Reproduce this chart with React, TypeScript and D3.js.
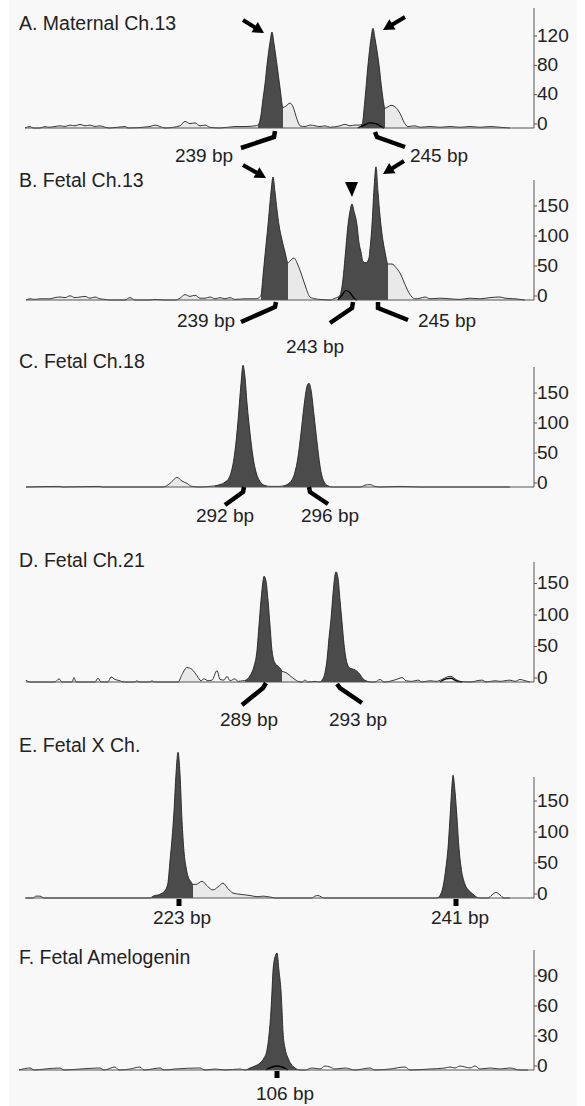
import React from 'react';
import * as d3 from 'd3';

type Pt = [number, number];

// ---------- DATA (scan position, signal) ----------
const traceA: Pt[] = [[0,0],[5,2],[8,0],[15,0],[20,2],[23,1],[30,2],[35,3],[40,2],[45,4],[50,3],[55,5],[60,3],[65,4],[70,2],[75,3],[80,1],[85,0],[100,2],[103,0],[125,2],[130,4],[135,2],[140,0],[155,3],[160,9],[165,6],[170,7],[175,3],[180,4],[185,1],[195,0],[210,2],[220,2],[230,3],[233,4],[236,18],[238,40],[240,60],[242,86],[245,117],[247,131],[249,115],[252,86],[255,55],[258,28],[261,30],[265,34],[268,29],[272,12],[275,3],[280,2],[285,4],[290,3],[295,2],[300,3],[305,1],[315,3],[320,5],[325,3],[330,4],[334,4],[337,5],[340,40],[343,86],[346,122],[348,136],[350,122],[354,86],[357,50],[360,27],[363,29],[366,31],[370,29],[375,20],[379,8],[383,2],[390,3],[395,1],[405,2],[415,1],[425,2],[435,1],[445,2],[455,1],[465,2],[475,1],[485,0]];
const secondA: Pt[] = [[333,0],[339,4],[345,7],[351,6],[356,2],[359,0]];
const darkA: Pt[] = [[233,258],[336,360]];
const lightA: Pt[] = [[0,485]];
const ticksA = [0, 40, 80, 120];

const traceB: Pt[] = [[1,0],[5,2],[10,1],[15,2],[25,2],[30,4],[35,5],[40,4],[45,7],[50,4],[55,5],[60,6],[65,3],[70,5],[75,2],[80,1],[85,0],[100,0],[105,4],[110,0],[125,0],[130,1],[140,0],[150,0],[155,3],[160,9],[165,6],[170,8],[175,3],[180,3],[185,5],[190,2],[195,4],[200,2],[205,4],[210,1],[220,2],[230,2],[233,3],[236,8],[238,40],[240,75],[243,125],[246,180],[248,205],[250,180],[252,150],[254,125],[257,100],[260,80],[263,62],[265,65],[269,70],[273,58],[277,40],[281,20],[285,5],[290,2],[295,1],[305,0],[310,3],[313,5],[315,8],[318,35],[320,70],[323,125],[325,148],[327,160],[329,148],[332,125],[334,95],[336,80],[338,64],[341,62],[344,70],[345,85],[347,125],[349,185],[351,222],[353,180],[355,140],[357,110],[360,80],[363,60],[367,60],[371,54],[375,45],[379,30],[383,15],[387,5],[390,2],[395,3],[400,5],[405,2],[415,3],[425,2],[435,1],[445,3],[455,2],[465,4],[475,5],[480,3],[490,2],[500,0]];
const secondB: Pt[] = [[313,0],[317,8],[321,16],[325,12],[329,3],[332,0]];
const darkB: Pt[] = [[236,263],[313,363]];
const lightB: Pt[] = [[0,500]];
const ticksB = [0, 50, 100, 150];

const traceC: Pt[] = [[1,0],[35,1],[37,0],[75,1],[77,0],[138,0],[145,6],[152,16],[157,10],[162,6],[167,1],[175,0],[185,1],[190,2],[195,4],[200,8],[204,15],[207,30],[210,60],[213,110],[216,172],[218,203],[220,183],[222,140],[225,90],[228,50],[231,25],[234,12],[237,5],[241,2],[245,1],[253,1],[259,2],[263,5],[267,12],[270,25],[273,50],[276,90],[279,135],[282,168],[284,173],[286,162],[289,120],[292,75],[295,35],[297,18],[300,6],[303,2],[307,0],[335,0],[340,3],[345,4],[350,1],[355,0],[375,1],[395,0],[485,0]];
const secondC: Pt[] = [];
const darkC: Pt[] = [[190,242],[258,307]];
const lightC: Pt[] = [[138,170]];
const ticksC = [0, 50, 100, 150];

const traceD: Pt[] = [[1,3],[5,0],[30,0],[34,5],[37,0],[47,0],[49,7],[51,0],[70,0],[73,6],[76,0],[83,0],[86,8],[90,4],[95,2],[98,0],[110,0],[112,2],[114,0],[125,0],[127,2],[129,0],[153,0],[157,12],[162,23],[167,20],[172,10],[176,2],[179,5],[183,2],[187,3],[192,18],[195,4],[199,3],[202,9],[205,2],[210,5],[213,1],[218,2],[221,3],[225,10],[229,25],[232,50],[234,90],[236,130],[238,160],[239,168],[241,160],[243,130],[245,90],[247,50],[250,30],[253,25],[256,20],[257,17],[261,15],[265,10],[270,4],[273,1],[277,0],[280,3],[283,0],[290,1],[295,0],[297,3],[300,15],[302,35],[304,70],[306,100],[308,140],[310,170],[311,175],[313,165],[315,130],[317,95],[319,60],[322,30],[325,22],[329,20],[332,17],[335,12],[338,5],[341,2],[345,0],[350,0],[355,4],[359,0],[367,2],[373,5],[377,7],[381,2],[387,1],[393,3],[397,0],[405,2],[411,1],[417,4],[422,8],[426,9],[430,5],[435,1],[445,0],[457,3],[461,0],[470,2],[475,1],[480,2],[485,3],[490,1],[495,4],[500,2],[505,0]];
const secondD: Pt[] = [[415,0],[421,5],[426,6],[431,2],[437,0]];
const darkD: Pt[] = [[220,257],[296,345]];
const lightD: Pt[] = [[153,177],[257,277]];
const ticksD = [0, 50, 100, 150];

const traceE: Pt[] = [[0,0],[8,0],[11,3],[15,3],[19,0],[125,0],[128,3],[135,6],[140,12],[143,25],[145,60],[147,95],[149,140],[151,200],[153,235],[155,200],[157,125],[159,75],[161,50],[163,35],[166,26],[168,22],[171,22],[177,27],[183,18],[188,13],[193,18],[198,24],[203,15],[208,8],[215,6],[225,4],[233,2],[238,3],[243,2],[247,1],[250,0],[287,0],[290,3],[293,4],[296,2],[299,0],[412,0],[415,4],[418,18],[421,50],[423,80],[425,129],[427,182],[428,198],[430,172],[432,129],[434,80],[436,50],[440,22],[444,12],[448,6],[452,1],[455,0],[463,0],[467,5],[471,9],[475,5],[479,0],[485,0]];
const secondE: Pt[] = [];
const darkE: Pt[] = [[125,168],[412,453]];
const lightE: Pt[] = [[168,250]];
const ticksE = [0, 50, 100, 150];

const traceF: Pt[] = [[-6,0],[5,2],[9,0],[20,1],[35,2],[39,0],[55,1],[75,2],[79,0],[90,3],[94,0],[105,1],[115,3],[119,0],[135,2],[139,0],[150,1],[175,2],[180,0],[190,1],[200,0],[215,1],[220,0],[225,2],[230,4],[235,7],[239,12],[242,20],[244,35],[246,60],[247,79],[248,99],[250,113],[252,117],[254,99],[256,79],[257,60],[258,38],[260,22],[263,12],[266,6],[270,2],[275,0],[280,0],[287,2],[295,1],[300,4],[305,3],[310,1],[320,2],[330,0],[345,2],[350,0],[365,1],[380,3],[385,0],[405,1],[420,2],[425,3],[430,2],[435,4],[440,3],[445,2],[450,4],[455,1],[465,2],[475,1],[485,2],[495,0],[503,0]];
const secondF: Pt[] = [[241,0],[247,3],[252,4],[257,3],[263,0]];
const darkF: Pt[] = [[220,280]];
const lightF: Pt[] = [];
const ticksF = [0, 30, 60, 90];

const titles = ['A. Maternal Ch.13', 'B. Fetal Ch.13', 'C. Fetal Ch.18', 'D. Fetal Ch.21', 'E. Fetal X Ch.', 'F. Fetal Amelogenin'];

// allele labels: panel index, text, scan position of the peak
const alleleLabels = [
  { p: 0, text: '239 bp', pos: 249 },
  { p: 0, text: '245 bp', pos: 349 },
  { p: 1, text: '239 bp', pos: 250 },
  { p: 1, text: '243 bp', pos: 328 },
  { p: 1, text: '245 bp', pos: 353 },
  { p: 2, text: '292 bp', pos: 219 },
  { p: 2, text: '296 bp', pos: 284 },
  { p: 3, text: '289 bp', pos: 241 },
  { p: 3, text: '293 bp', pos: 312 },
  { p: 4, text: '223 bp', pos: 154 },
  { p: 4, text: '241 bp', pos: 431 },
  { p: 5, text: '106 bp', pos: 252 },
];

// ---------- LAYOUT ----------
const W = 585, H = 1106;
const AXIS_X = 534;
const FONT = "'Liberation Sans', Arial, Helvetica, sans-serif";

const layout = [
  { baseline: 128, k: 0.733, axisTop: 8, titleY: 30, start: 0 },
  { baseline: 300, k: 0.6, axisTop: 180, titleY: 187, start: 1 },
  { baseline: 487, k: 0.6, axisTop: 367, titleY: 368, start: 1 },
  { baseline: 682, k: 0.63, axisTop: 562, titleY: 567, start: 1 },
  { baseline: 898, k: 0.62, axisTop: 777, titleY: 752, start: 1 },
  { baseline: 1070, k: 1.0, axisTop: 950, titleY: 964, start: -6 },
];

// label line shapes (relative to peak x, baseline) and text offsets
const labelStyle = [
  { line: [[1, 3], [0, 9], [-33, 20]], tx: -70, ty: 34 },
  { line: [[1, 4], [3, 9], [31, 19]], tx: 65, ty: 34 },
  { line: [[1, 2], [0, 7], [-34, 22]], tx: -69, ty: 27 },
  { line: [[0, 2], [-1, 8], [-23, 23]], tx: -38, ty: 53 },
  { line: [[0, 2], [0, 8], [30, 20]], tx: 69, ty: 27 },
  { line: [[0, 0], [-1, 5], [-19, 18]], tx: -19, ty: 35 },
  { line: [[0, 0], [1, 5], [19, 17]], tx: 21, ty: 35 },
  { line: [[0, 1], [-3, 6], [-24, 23]], tx: -17, ty: 44 },
  { line: [[0, 2], [3, 6], [25, 21]], tx: 21, ty: 44 },
  { tick: true, tx: 3, ty: 26 },
  { tick: true, tx: 4, ty: 26 },
  { tick: true, tx: 8, ty: 30 },
];

const arrows = [
  { from: [243, 20], to: [264, 33] },
  { from: [405, 17], to: [383, 30] },
  { from: [243, 165], to: [266, 178] },
  { from: [404, 161], to: [383, 174] },
];

const x = d3.scaleLinear().domain([0, 510]).range([25, 535]);

function Arrow({ from, to }: { from: number[]; to: number[] }) {
  const dx = to[0] - from[0], dy = to[1] - from[1];
  const len = Math.hypot(dx, dy);
  const ux = dx / len, uy = dy / len;
  const hl = 11, hw = 6;
  const bx = to[0] - ux * hl, by = to[1] - uy * hl;
  const pts = [
    [to[0], to[1]],
    [bx - uy * hw, by + ux * hw],
    [bx + uy * hw, by - ux * hw],
  ];
  return (
    <g>
      <line x1={from[0]} y1={from[1]} x2={bx + ux} y2={by + uy} stroke="#000" strokeWidth={4} />
      <polygon points={pts.map((p) => p.join(',')).join(' ')} fill="#000" />
    </g>
  );
}

const traces = [traceA, traceB, traceC, traceD, traceE, traceF];
const seconds = [secondA, secondB, secondC, secondD, secondE, secondF];
const darks = [darkA, darkB, darkC, darkD, darkE, darkF];
const lights = [lightA, lightB, lightC, lightD, lightE, lightF];
const ticks = [ticksA, ticksB, ticksC, ticksD, ticksE, ticksF];

export default function App() {
  return (
    <svg width={W} height={H} style={{ position: 'absolute', left: 0, top: 0, background: '#fff' }} fontFamily={FONT}>
      <rect x={9} y={0} width={568} height={H} fill="#f8f8f8" />
      {layout.map((L, i) => {
        const maxT = ticks[i][ticks[i].length - 1];
        const y = d3.scaleLinear().domain([0, maxT]).range([L.baseline, L.baseline - L.k * maxT]);
        const area = d3.area<Pt>().x((d) => x(d[0])).y0(L.baseline).y1((d) => y(d[1])).curve(d3.curveMonotoneX);
        const line = d3.line<Pt>().x((d) => x(d[0])).y((d) => y(d[1])).curve(d3.curveMonotoneX);
        const aD = area(traces[i]) || '';
        return (
          <g key={i}>
            <defs>
              <clipPath id={`dk${i}`}>
                {darks[i].map((r, j) => (
                  <rect key={j} x={x(r[0])} y={0} width={x(r[1]) - x(r[0])} height={H} />
                ))}
              </clipPath>
              <clipPath id={`lt${i}`}>
                {lights[i].map((r, j) => (
                  <rect key={j} x={x(r[0])} y={0} width={x(r[1]) - x(r[0])} height={H} />
                ))}
              </clipPath>
            </defs>
            <text x={19} y={L.titleY} fontSize={19.5} fill="#222">{titles[i]}</text>
            {lights[i].length > 0 && <path d={aD} fill="#e9e9e9" clipPath={`url(#lt${i})`} />}
            <path d={aD} fill="#4b4b4b" clipPath={`url(#dk${i})`} />
            <path d={line(traces[i]) || ''} fill="none" stroke="#222" strokeWidth={0.9} />
            {seconds[i].length > 0 && (
              <path d={line(seconds[i]) || ''} fill="none" stroke="#000" strokeWidth={1.4} />
            )}
            <line x1={x(L.start)} x2={AXIS_X} y1={L.baseline} y2={L.baseline} stroke="#555" strokeWidth={1} />
            <line x1={AXIS_X} x2={AXIS_X} y1={L.axisTop} y2={L.baseline} stroke="#555" strokeWidth={1} />
            {ticks[i].map((t) => (
              <g key={t}>
                <line x1={AXIS_X} x2={AXIS_X + 3} y1={y(t) - 4} y2={y(t) - 4} stroke="#555" />
                <text x={AXIS_X + 3} y={y(t) - 5} dy="0.35em" fontSize={19} fill="#222">{t}</text>
              </g>
            ))}
          </g>
        );
      })}
      {alleleLabels.map((a, j) => {
        const L = layout[a.p];
        const s: any = labelStyle[j];
        const px = x(a.pos);
        return (
          <g key={j}>
            {s.tick ? (
              <rect x={px - 2.5} y={L.baseline + 1} width={5} height={7} fill="#000" />
            ) : (
              <polyline
                points={s.line.map((p: number[]) => `${px + p[0]},${L.baseline + p[1]}`).join(' ')}
                fill="none"
                stroke="#000"
                strokeWidth={4.5}
                strokeLinejoin="miter"
              />
            )}
            <text x={px + s.tx} y={L.baseline + s.ty} textAnchor="middle" fontSize={19} fill="#222">{a.text}</text>
          </g>
        );
      })}
      {arrows.map((a, j) => (
        <Arrow key={j} from={a.from} to={a.to} />
      ))}
      <polygon points="345,182 358,182 352,197" fill="#000" />
    </svg>
  );
}
